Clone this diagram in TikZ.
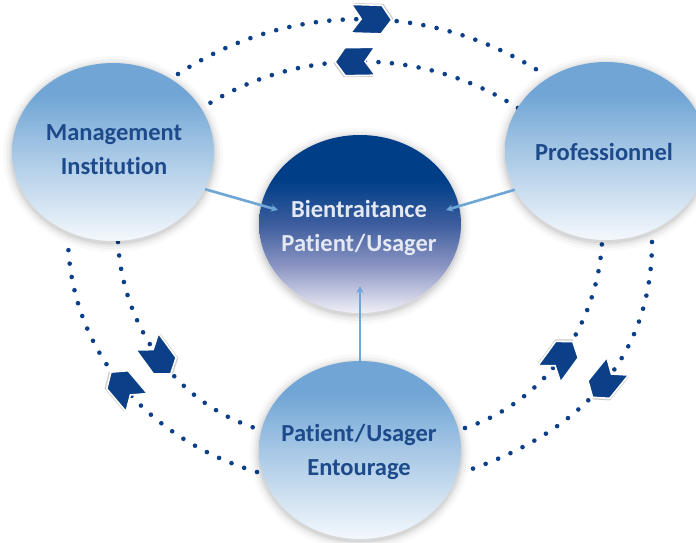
\documentclass[tikz,border=0pt]{standalone}
\usepackage{fontspec}
\setmainfont{Carlito}[Ligatures={NoCommon,NoContextual}]
\usetikzlibrary{shapes.geometric,arrows.meta,calc}

\definecolor{navy}{HTML}{0B3F88}
\definecolor{txtblue}{HTML}{1D4A8A}
\definecolor{conblue}{HTML}{6EA6D8}
\definecolor{balltop}{HTML}{70A5D5}
\definecolor{ballmid}{HTML}{A6C7E5}
\definecolor{ballbot}{HTML}{F4F8FC}
\definecolor{ctop}{HTML}{003F88}
\definecolor{cmid}{HTML}{3D5D9E}
\definecolor{clow}{HTML}{8D96C4}
\definecolor{cbot}{HTML}{F0F0F7}
\definecolor{ctext}{HTML}{E4E8F2}

\pgfdeclareverticalshading{lightball}{100bp}{color(0bp)=(ballbot); color(25bp)=(ballbot); color(50bp)=(ballmid); color(66bp)=(balltop); color(100bp)=(balltop)}
\pgfdeclareverticalshading{darkball}{100bp}{color(0bp)=(cbot); color(25bp)=(cbot); color(38bp)=(clow); color(50bp)=(cmid); color(62bp)=(ctop); color(100bp)=(ctop)}

\tikzset{
  ball/.style={ellipse, minimum width=202pt, minimum height=178pt, inner sep=0pt, draw=none},
  lball/.style={ball, shading=lightball},
  dball/.style={ball, shading=darkball},
  ltext/.style={font=\fontsize{24.5}{34}\selectfont\bfseries, text=txtblue, align=center, inner sep=0pt},
  dtext/.style={ltext, text=ctext},
  dotline/.style={navy, line width=4.6pt, line cap=round, dash pattern=on 0pt off 13.5pt},
  chevpic/.pic={
    \fill[black, opacity=0.2, solid, line width=0pt, xshift=1.5pt, yshift=1.5pt]
      (-20,-14) -- (10,-14) -- (20,0) -- (10,14) -- (-20,14) -- (-10,0) -- cycle;
    \filldraw[fill=navy, draw=white, solid, line width=1.6pt, line join=miter]
      (-20,-14) -- (10,-14) -- (20,0) -- (10,14) -- (-20,14) -- (-10,0) -- cycle;
  },
  conn/.style={conblue, line width=2.6pt, -{Stealth[length=7pt,width=7pt]}},
}
\newcommand{\slashsp}{\kern0.8pt/\kern0.8pt}

\begin{document}
\begin{tikzpicture}[x=1pt,y=-1pt]
\useasboundingbox (0,0) rectangle (696,542);
\clip (0,0) rectangle (696,542);
\fill[white] (0,0) rectangle (696,542);

% centres
\coordinate (cM) at (113,152);
\coordinate (cP) at (606,151);
\coordinate (cB) at (360,224);
\coordinate (cU) at (360,450);

% dotted loops
\coordinate (tOa) at (178,74);  \coordinate (tOb) at (542,73);
\coordinate (tIa) at (518,108); \coordinate (tIb) at (202,108);
\coordinate (lOa) at (257,472); \coordinate (lOb) at (68,242);
\coordinate (lIa) at (118,242); \coordinate (lIb) at (255,428);
\coordinate (rIa) at (465,428); \coordinate (rIb) at (602,242);
\coordinate (rOa) at (652,242); \coordinate (rOb) at (463,472);

\draw[dotline] (tOa) .. controls (290,1) and (430,1) .. (tOb)
  pic[pos=0.53, sloped, allow upside down, scale=1.02] {chevpic};
\draw[dotline] (tIa) .. controls (422,46) and (298,46) .. (tIb)
  pic[pos=0.515, sloped, allow upside down, scale=1.0] {chevpic};
\draw[dotline] (lOa) .. controls (150,440) and (72,355) .. (lOb)
  pic[pos=0.5, sloped, allow upside down, scale=1.0] {chevpic};
\draw[dotline] (lIa) .. controls (122,320) and (170,400) .. (lIb)
  pic[pos=0.52, sloped, allow upside down, scale=1.0] {chevpic};
\draw[dotline] (rIa) .. controls (550,400) and (598,320) .. (rIb)
  pic[pos=0.48, sloped, allow upside down, scale=1.0] {chevpic};
\draw[dotline] (rOa) .. controls (652,350) and (590,430) .. (rOb)
  pic[pos=0.5, sloped, allow upside down, scale=1.0] {chevpic};

% halos
\foreach \c in {cM,cP,cB,cU}{
  \foreach \r/\o in {9/0.025,6/0.035,3.5/0.045,1.5/0.06}{
    \fill[black,opacity=\o] ($(\c)+(0,2)$) ellipse [x radius={101pt+\r pt}, y radius={89pt+\r pt}];
  }
}

% balls
\node[lball] (mgmt) at (cM) {};
\node[lball] (prof) at (cP) {};
\node[dball] (bien) at (cB) {};
\node[lball] (pat)  at (cU) {};

% texts
\node[ltext] (mgmtT) at (114,150) {Management\\Institution};
\node[ltext] (profT) at (604,152) {Professionnel};
\node[dtext] (bienT) at (359,228) {Bientraitance\\Patient\slashsp Usager};
\node[ltext] (patT)  at (359,452) {Patient\slashsp Usager\\Entourage};

% connectors
\coordinate (mEnd) at (278,210);
\coordinate (pEnd) at (446,210);
\coordinate (uEnd) at (360,286);
\draw[conn] (mgmt.-22) -- (mEnd);
\draw[conn] (prof.203) -- (pEnd);
\draw[conn] (pat.north) -- (uEnd);
\end{tikzpicture}
\end{document}
